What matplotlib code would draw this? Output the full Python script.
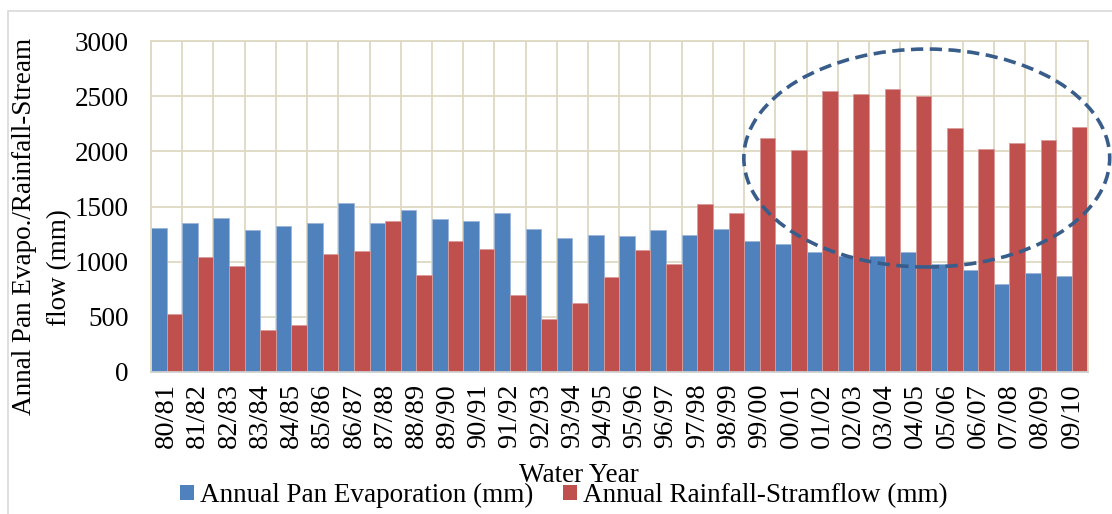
import matplotlib
matplotlib.use("Agg")
import matplotlib.pyplot as plt
from matplotlib.patches import Ellipse, Rectangle, Patch
import numpy as np

plt.rcParams['font.family'] = ['Liberation Serif', 'DejaVu Serif']

years = ["80/81", "81/82", "82/83", "83/84", "84/85", "85/86", "86/87", "87/88",
         "88/89", "89/90", "90/91", "91/92", "92/93", "93/94", "94/95", "95/96",
         "96/97", "97/98", "98/99", "99/00", "00/01", "01/02", "02/03", "03/04",
         "04/05", "05/06", "06/07", "07/08", "08/09", "09/10"]
pan_evap = [1305, 1353, 1399, 1290, 1320, 1350, 1532, 1347, 1468, 1390,
            1366, 1441, 1293, 1218, 1242, 1233, 1290, 1242, 1299, 1184,
            1163, 1088, 1048, 1054, 1085, 975, 924, 795, 897, 870]
rain_flow = [523, 1045, 964, 378, 426, 1073, 1100, 1366, 876, 1184,
             1118, 701, 483, 625, 861, 1103, 982, 1520, 1441, 2118,
             2009, 2547, 2523, 2568, 2498, 2211, 2018, 2079, 2100, 2218]

BLUE = '#4F81BD'
RED = '#C0504D'
GRID = '#DDD9C3'
FS = 19.5

fig = plt.figure(figsize=(11.12, 5.14), dpi=100)
ax = fig.add_axes([0.1358, 0.2763, 0.8422, 0.6437])

x = np.arange(len(years))
ax.bar(x - 0.5, pan_evap, width=0.5, align='edge', color=BLUE,
       edgecolor='#9DB6D8', linewidth=0.6, zorder=2)
ax.bar(x, rain_flow, width=0.5, align='edge', color=RED,
       edgecolor='#DB9C9A', linewidth=0.6, zorder=2)

ax.set_xlim(-0.5, len(years) - 0.5)
ax.set_ylim(0, 3000)
ax.set_yticks(np.arange(0, 3001, 500))
ax.set_xticks(x)
ax.set_xticklabels(years, rotation=90, fontsize=20.5)
ax.set_xticks(np.arange(len(years) + 1) - 0.5, minor=True)
ax.tick_params(axis='both', which='both', length=0)
ax.tick_params(axis='y', labelsize=FS, pad=16)
ax.tick_params(axis='x', pad=8)

ax.grid(True, which='major', axis='y', color=GRID, linewidth=1.3)
ax.grid(True, which='minor', axis='x', color=GRID, linewidth=1.3)
ax.set_axisbelow(True)
for s in ['top', 'right', 'left']:
    ax.spines[s].set_color(GRID)
    ax.spines[s].set_linewidth(1.3)
ax.spines['bottom'].set_color('#D0D0D0')
ax.spines['bottom'].set_linewidth(1.3)

# axis titles
fig.text(0.5207, 0.075, "Water Year", fontsize=FS, ha='center', va='center')
fig.text(25 / 1112, 1 - 226 / 514, "Annal Pan Evapo./Rainfall-Stream",
         fontsize=FS, rotation=90, ha='center', va='center')
fig.text(60 / 1112, 1 - 268 / 514, "flow (mm)",
         fontsize=FS, rotation=90, ha='center', va='center')

# highlight ellipse
ell = Ellipse((24.35, 1940), 11.72, 1976, fill=False, edgecolor='#385D8A',
              linewidth=2.6, linestyle=(0, (3.4, 1.8)), clip_on=False, zorder=5)
ax.add_patch(ell)

handles = [Patch(facecolor=BLUE, edgecolor='none'),
           Patch(facecolor=RED, edgecolor='none')]
fig.legend(handles, ["Annual Pan Evaporation (mm)", "Annual Rainfall-Stramflow (mm)"],
           loc='center', bbox_to_anchor=(0.507, 0.036), ncol=2, frameon=False,
           fontsize=FS, handlelength=0.52, handleheight=0.52, handletextpad=0.22,
           columnspacing=1.1, borderpad=0, borderaxespad=0)

# outer chart border
fig.patches.append(Rectangle((0.0072, -0.02), 1.2, 0.9986, transform=fig.transFigure,
                             fill=False, edgecolor='#D9D9D9', linewidth=1.2))

fig.savefig("out.png", dpi=100)
